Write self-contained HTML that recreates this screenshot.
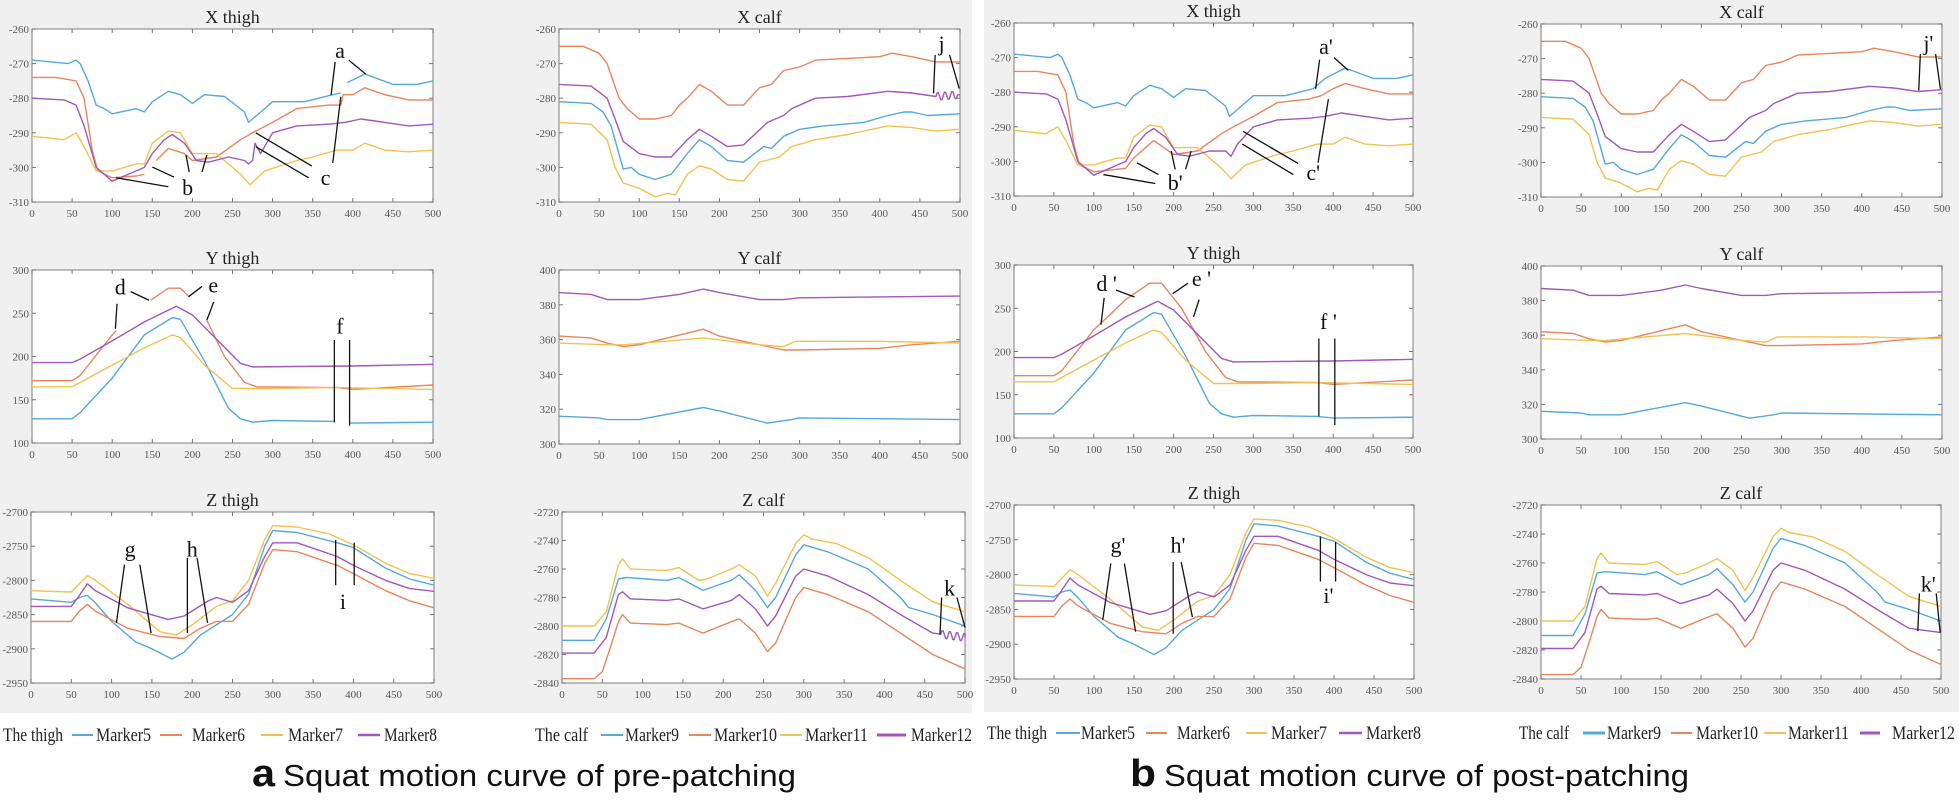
<!DOCTYPE html>
<html><head><meta charset="utf-8"><style>
html,body{margin:0;padding:0;background:#fff;}
svg{display:block}
</style></head><body>
<svg id="s" width="1959" height="800" viewBox="0 0 1959 800" xmlns="http://www.w3.org/2000/svg">
<rect x="0" y="0" width="1959" height="800" fill="#fff"/>
<rect x="0" y="0" width="972" height="713" fill="#f0f0f0"/>
<rect x="984" y="0" width="975" height="712" fill="#f0f0f0"/>
<g id="plots"></g>
<g font-family="Liberation Serif, serif" font-size="19" fill="#222">
<text x="3" y="741" textLength="60" lengthAdjust="spacingAndGlyphs">The thigh</text>
<line x1="72" y1="735" x2="93" y2="735" stroke="#55a8dc" stroke-width="2"/>
<text x="96" y="741" textLength="55" lengthAdjust="spacingAndGlyphs">Marker5</text>
<line x1="160" y1="735" x2="182" y2="735" stroke="#e9855c" stroke-width="2"/>
<text x="192" y="741" textLength="53" lengthAdjust="spacingAndGlyphs">Marker6</text>
<line x1="261" y1="735" x2="283" y2="735" stroke="#f2c250" stroke-width="2"/>
<text x="288" y="741" textLength="55" lengthAdjust="spacingAndGlyphs">Marker7</text>
<line x1="358" y1="735" x2="380" y2="735" stroke="#9f58bb" stroke-width="2.5"/>
<text x="384" y="741" textLength="53" lengthAdjust="spacingAndGlyphs">Marker8</text>
<text x="535" y="741" textLength="53" lengthAdjust="spacingAndGlyphs">The calf</text>
<line x1="601" y1="735" x2="623" y2="735" stroke="#55a8dc" stroke-width="2"/>
<text x="625" y="741" textLength="54" lengthAdjust="spacingAndGlyphs">Marker9</text>
<line x1="689" y1="735" x2="711" y2="735" stroke="#e9855c" stroke-width="2"/>
<text x="714" y="741" textLength="63" lengthAdjust="spacingAndGlyphs">Marker10</text>
<line x1="780" y1="735" x2="802" y2="735" stroke="#f2c250" stroke-width="2"/>
<text x="805" y="741" textLength="63" lengthAdjust="spacingAndGlyphs">Marker11</text>
<line x1="877" y1="735" x2="906" y2="735" stroke="#9f58bb" stroke-width="3"/>
<text x="911" y="741" textLength="61" lengthAdjust="spacingAndGlyphs">Marker12</text>

<text x="987" y="739" textLength="60" lengthAdjust="spacingAndGlyphs">The thigh</text>
<line x1="1056" y1="733" x2="1080" y2="733" stroke="#55a8dc" stroke-width="2"/>
<text x="1081" y="739" textLength="54" lengthAdjust="spacingAndGlyphs">Marker5</text>
<line x1="1146" y1="733" x2="1167" y2="733" stroke="#e9855c" stroke-width="2"/>
<text x="1177" y="739" textLength="53" lengthAdjust="spacingAndGlyphs">Marker6</text>
<line x1="1246" y1="733" x2="1267" y2="733" stroke="#f2c250" stroke-width="2"/>
<text x="1271" y="739" textLength="56" lengthAdjust="spacingAndGlyphs">Marker7</text>
<line x1="1339" y1="733" x2="1362" y2="733" stroke="#9f58bb" stroke-width="2.5"/>
<text x="1366" y="739" textLength="55" lengthAdjust="spacingAndGlyphs">Marker8</text>
<text x="1519" y="739" textLength="50" lengthAdjust="spacingAndGlyphs">The calf</text>
<line x1="1583" y1="733" x2="1605" y2="733" stroke="#55a8dc" stroke-width="3"/>
<text x="1607" y="739" textLength="54" lengthAdjust="spacingAndGlyphs">Marker9</text>
<line x1="1671" y1="733" x2="1692" y2="733" stroke="#e9855c" stroke-width="2"/>
<text x="1696" y="739" textLength="62" lengthAdjust="spacingAndGlyphs">Marker10</text>
<line x1="1764" y1="733" x2="1786" y2="733" stroke="#f2c250" stroke-width="2"/>
<text x="1788" y="739" textLength="61" lengthAdjust="spacingAndGlyphs">Marker11</text>
<line x1="1860" y1="733" x2="1880" y2="733" stroke="#9f58bb" stroke-width="3"/>
<text x="1892" y="739" textLength="63" lengthAdjust="spacingAndGlyphs">Marker12</text>
</g>
<g font-family="Liberation Sans, sans-serif" fill="#111">
<text x="252" y="786" font-size="38" font-weight="bold" textLength="23" lengthAdjust="spacingAndGlyphs">a</text>
<text x="283" y="786" font-size="31" textLength="513" lengthAdjust="spacingAndGlyphs">Squat motion curve of pre-patching</text>
<text x="1130" y="786" font-size="38" font-weight="bold" textLength="26" lengthAdjust="spacingAndGlyphs">b</text>
<text x="1164" y="786" font-size="31" textLength="525" lengthAdjust="spacingAndGlyphs">Squat motion curve of post-patching</text>
</g>
</svg>
<script>
const B='#55a8dc',R='#e9855c',Y='#f2c250',P='#9f58bb';
function wig(pts,from,to,amp,per){
  const out=[];
  for(const p of pts){ if(p&&p[0]>from&&p[0]<to) continue; out.push(p); }
  const ins=[]; let base=null;
  for(let x=from;x<=to;x+=1.5){ base=yAt(pts,x); ins.push([x,base+amp*Math.sin((x-from)/per*2*Math.PI)]); }
  const r=[];let done=false;
  for(const p of out){ if(!done&&p&&p[0]>=to){ r.push(...ins); done=true;} r.push(p);}
  if(!done) r.push(...ins);
  return r;
}
function yAt(pts,x){
  const q=pts.filter(p=>p);
  for(let i=0;i<q.length-1;i++){ if(x>=q[i][0]&&x<=q[i+1][0]){const t=(x-q[i][0])/(q[i+1][0]-q[i][0]||1);return q[i][1]+t*(q[i+1][1]-q[i][1]);}}
  return q[q.length-1][1];
}
function plot(box,ylim,yt,title,series,ann){
  const [x0,y0,x1,y1]=box;
  const sx=v=>x0+v/500*(x1-x0), sy=v=>y0+(ylim[1]-v)/(ylim[1]-ylim[0])*(y1-y0);
  let s=`<rect x="${x0}" y="${y0}" width="${x1-x0}" height="${y1-y0}" fill="#fff" stroke="#9a9a9a" stroke-width="1.3"/>`;
  for(let v=0;v<=500;v+=50){const X=sx(v);
    s+=`<line x1="${X}" y1="${y1}" x2="${X}" y2="${y1-4}" stroke="#777"/><line x1="${X}" y1="${y0}" x2="${X}" y2="${y0+4}" stroke="#777"/>`;
    s+=`<text x="${X}" y="${y1+15}" text-anchor="middle" font-size="11" fill="#555" font-family="Liberation Serif, serif">${v}</text>`;}
  for(const v of yt){const Yv=sy(v);
    s+=`<line x1="${x0}" y1="${Yv}" x2="${x0+4}" y2="${Yv}" stroke="#777"/><line x1="${x1}" y1="${Yv}" x2="${x1-4}" y2="${Yv}" stroke="#777"/>`;
    s+=`<text x="${x0-3}" y="${Yv+4}" text-anchor="end" font-size="11" fill="#555" font-family="Liberation Serif, serif">${v}</text>`;}
  s+=`<text x="${(x0+x1)/2}" y="${y0-6}" text-anchor="middle" font-size="18" fill="#222" font-family="Liberation Serif, serif">${title}</text>`;
  for(const [c,pts] of series){
    let d='',pen=false;
    for(const p of pts){ if(!p){pen=false;continue;} d+=(pen?'L':'M')+sx(p[0]).toFixed(1)+','+sy(p[1]).toFixed(1); pen=true;}
    s+=`<path d="${d}" fill="none" stroke="${c}" stroke-width="1.4" stroke-linejoin="round"/>`;
  }
  if(ann) for(const a of ann){
    s+=`<text x="${sx(a[0])}" y="${sy(a[1])+8}" text-anchor="middle" font-size="22" fill="#111" font-family="Liberation Serif, serif">${a[2]}</text>`;
    for(const l of a[3]) s+=`<line x1="${sx(l[0])}" y1="${sy(l[1])}" x2="${sx(l[2])}" y2="${sy(l[3])}" stroke="#111" stroke-width="1.3"/>`;
  }
  return s;
}
// ---------- data ----------
const xtB_pre=[[0,-269],[45,-270],[55,-269],[60,-270],[70,-275],[80,-282],[90,-283],[100,-284.5],[130,-283],[140,-284],[150,-281],[170,-278],[185,-279],[200,-281.5],[215,-279],[240,-279.5],[265,-284],[270,-287],[280,-285],[300,-281],[340,-281],[375,-279],[385,-278.5],null,[393,-275.5],[415,-273],[450,-276],[480,-276],[500,-275]];
const xtB_post=[[0,-269],[45,-270],[55,-269],[60,-270],[70,-275],[80,-282],[90,-283],[100,-284.5],[130,-283],[140,-284],[150,-281],[170,-278],[185,-279],[200,-281.5],[215,-279],[240,-279.5],[265,-284],[270,-287],[280,-285],[300,-281],[340,-281],[375,-279],[390,-276],[415,-273],[450,-276],[480,-276],[500,-275]];
const xtR_pre=[[0,-274],[30,-274],[55,-275],[65,-280],[75,-295],[82,-301],[100,-303],[130,-302.5],[140,-302],null,[155,-298],[170,-294.5],[190,-296],[200,-298],[230,-297],[260,-292],[275,-290],[300,-287],[330,-283],[370,-282],[385,-282],[388,-279],[400,-279],[415,-277],[440,-279],[470,-280.5],[500,-280.5]];
const xtR_post=[[0,-274],[30,-274],[55,-275],[65,-280],[75,-295],[82,-301],[100,-303],[140,-302],[150,-299],[175,-294],[200,-298],[230,-297],[260,-292],[275,-290],[300,-287],[330,-283],[370,-282],[385,-281],[400,-279],[415,-277.5],[440,-279],[470,-280.5],[500,-280.5]];
const xtY=[[0,-291],[40,-292],[55,-290],[65,-294],[80,-301],[100,-301],[130,-299],[140,-299],[150,-293],[170,-289.5],[185,-290],[200,-296],[230,-296],[260,-302],[272,-305],[290,-301],[330,-298],[350,-297],[380,-295],[400,-295],[415,-293],[440,-295],[470,-295.5],[500,-295]];
const xtP_pre=[[0,-280],[40,-280.5],[55,-282],[65,-288],[80,-300],[100,-304],[140,-300],[150,-296],[165,-292],[175,-290.5],[190,-293],[205,-298],[220,-298.5],[245,-297],[265,-298],[270,-299],[275,-298],[278,-293],[285,-296],[300,-290],[330,-288],[370,-287.5],[390,-287],[410,-286],[440,-287],[470,-288],[500,-287.5]];
const xtP_post=[[0,-280],[40,-280.5],[55,-282],[65,-288],[80,-300],[100,-304],[140,-300],[150,-296],[165,-292],[175,-290.5],[190,-293],[205,-298],[220,-298.5],[245,-297],[265,-297],[272,-298.5],[280,-295],[300,-290],[330,-288],[370,-287.5],[390,-287],[410,-286],[440,-287],[470,-288],[500,-287.5]];

const xcR=[[0,-265],[30,-265],[50,-267],[60,-270],[75,-280],[85,-283],[100,-286],[120,-286],[140,-285],[150,-282],[160,-280],[175,-276],[190,-278],[210,-282],[230,-282],[250,-277],[265,-276],[280,-272],[300,-271],[320,-269],[360,-268.5],[400,-268],[415,-267],[440,-268],[470,-269.5],[500,-269.5]];
const xcP=[[0,-276],[40,-276.5],[60,-280],[70,-286],[80,-292.5],[100,-296],[120,-297],[140,-297],[160,-292],[175,-289],[190,-291],[210,-294],[230,-293.5],[260,-287],[280,-285],[290,-283],[320,-280],[360,-279.5],[410,-278],[440,-278.5],[470,-279.5],[500,-279]];
const xcB=[[0,-281],[40,-281.5],[55,-284],[65,-288],[80,-300.5],[90,-300],[100,-302],[120,-303.5],[140,-302],[160,-296],[175,-292],[190,-294],[210,-298],[230,-298.5],[255,-294],[265,-294.5],[280,-291],[300,-289],[330,-288],[380,-287],[410,-285],[430,-284],[440,-284],[460,-285],[500,-284.5]];
const xcY=[[0,-287],[40,-287.5],[60,-292],[70,-300],[80,-304.5],[100,-306],[120,-308.5],[135,-307.5],[145,-308],[160,-302],[175,-299.5],[190,-300.5],[210,-303.5],[230,-304],[250,-298.5],[275,-297],[290,-294],[320,-292],[360,-290.5],[390,-289],[410,-288],[440,-288.5],[470,-289.5],[500,-289]];

const ytB_pre=[[0,128],[50,128],[60,135],[100,175],[140,225],[175,245],[185,243],[215,195],[245,140],[260,128],[275,124],[300,126],[377,125],null,[396,123],[500,124]];
const ytB_post=[[0,128],[50,128],[60,135],[100,175],[140,225],[175,245],[185,243],[215,195],[245,140],[260,128],[275,124],[300,126],[380,125],[400,123],[500,124]];
const ytR_pre=[[0,172],[50,172],[60,178],[100,225],[105,230],null,[148,265],[170,279],[185,279],[195,270],null,[218,242],[240,200],[265,170],[280,165],[380,164],[400,162],[500,167]];
const ytR_post=[[0,172],[50,172],[60,178],[100,225],[140,260],[170,279],[185,279],[210,250],[240,200],[265,170],[280,165],[380,164],[400,162],[500,167]];
const ytY=[[0,165],[50,165],[60,170],[100,190],[140,210],[175,225],[185,222],[215,190],[250,163],[290,163],[380,164],[500,162]];
const ytP=[[0,193],[50,193],[60,197],[100,218],[140,240],[180,258],[200,248],[230,220],[260,192],[275,188],[400,189],[500,191]];

const ycP=[[0,387],[40,386],[60,383],[100,383],[150,386],[180,389],[200,387],[250,383],[280,383],[300,384],[500,385]];
const ycR=[[0,362],[40,361],[60,358],[80,356],[100,357],[180,366],[200,362],[250,357],[280,354],[300,354],[400,355],[440,357],[500,359]];
const ycY=[[0,358],[60,357],[80,357],[180,361],[250,357],[280,356],[295,359],[400,359],[500,358]];
const ycB=[[0,316],[50,315],[60,314],[100,314],[180,321],[200,319],[260,312],[290,314],[300,315],[500,314]];

const ztY=[[0,-2815],[50,-2817],[60,-2805],[70,-2793],[80,-2800],[120,-2835],[160,-2875],[180,-2880],[200,-2865],[230,-2838],[250,-2830],[270,-2800],[290,-2740],[300,-2720],[330,-2722],[370,-2732],[400,-2748],[440,-2775],[470,-2790],[500,-2797]];
const ztB=[[0,-2827],[50,-2832],[60,-2825],[70,-2822],[80,-2833],[100,-2860],[130,-2890],[150,-2900],[175,-2915],[190,-2905],[210,-2880],[250,-2850],[270,-2820],[290,-2750],[300,-2727],[330,-2730],[380,-2745],[400,-2752],[440,-2782],[470,-2798],[500,-2807]];
const ztP=[[0,-2838],[50,-2838],[60,-2822],[70,-2805],[80,-2815],[120,-2840],[170,-2857],[190,-2852],[220,-2830],[230,-2825],[250,-2832],[270,-2815],[290,-2765],[300,-2745],[330,-2745],[380,-2765],[400,-2778],[440,-2800],[470,-2812],[500,-2816]];
const ztR=[[0,-2860],[50,-2860],[60,-2845],[70,-2835],[80,-2845],[120,-2870],[160,-2882],[190,-2885],[210,-2870],[230,-2860],[250,-2860],[270,-2835],[290,-2775],[300,-2755],[330,-2758],[380,-2778],[400,-2790],[440,-2815],[470,-2830],[500,-2840]];

const zcY=[[0,-2800],[40,-2800],[55,-2790],[70,-2757],[75,-2753],[85,-2760],[130,-2761],[145,-2759],[170,-2768],[180,-2767],[210,-2760],[220,-2757],[240,-2765],[255,-2779],[265,-2770],[290,-2742],[300,-2736],[310,-2739],[340,-2742],[380,-2752],[420,-2768],[460,-2783],[500,-2790]];
const zcB=[[0,-2810],[40,-2810],[55,-2795],[70,-2767],[80,-2766],[130,-2768],[145,-2766],[175,-2775],[210,-2768],[220,-2764],[240,-2775],[255,-2787],[265,-2780],[290,-2750],[300,-2743],[330,-2748],[380,-2760],[420,-2780],[430,-2787],[460,-2792],[500,-2800]];
const zcP=[[0,-2819],[40,-2819],[55,-2808],[70,-2778],[75,-2776],[85,-2781],[130,-2782],[145,-2781],[175,-2788],[210,-2782],[220,-2778],[240,-2788],[255,-2800],[265,-2793],[290,-2765],[300,-2760],[330,-2765],[380,-2778],[420,-2792],[460,-2805],[500,-2808]];
const zcR=[[0,-2837],[40,-2837],[50,-2832],[60,-2815],[70,-2797],[75,-2792],[85,-2798],[130,-2799],[145,-2798],[175,-2805],[210,-2797],[220,-2795],[240,-2805],[255,-2818],[265,-2812],[290,-2780],[300,-2773],[330,-2778],[380,-2790],[420,-2805],[460,-2820],[500,-2830]];

const xT=[-260,-270,-280,-290,-300,-310], yTt=[100,150,200,250,300], yTc=[300,320,340,360,380,400];
const zTt=[-2700,-2750,-2800,-2850,-2900,-2950], zTc=[-2720,-2740,-2760,-2780,-2800,-2820,-2840];
let s='';
// ---- left (pre) ----
s+=plot([32,29,433,202],[-310,-260],xT,'X thigh',[[B,xtB_pre],[R,xtR_pre],[Y,xtY],[P,xtP_pre]],
 [[384,-266,'a',[[378,-269.5,373,-279],[395,-269,416,-273]]],
  [194,-305.6,'b',[[105,-303,170,-305.6],[150,-299.9,177,-302.8],[192,-296.4,196,-301.3],[218,-296.4,212,-301.3]]],
  [366,-302.8,'c',[[279,-290,349,-299.6],[279,-294,345,-303],[385,-279.6,375,-298.7]]]]);
s+=plot([559,29,960,202],[-310,-260],xT,'X calf',[[R,xcR],[P,wig(xcP,470,498,1.2,9)],[B,xcB],[Y,xcY]],
 [[477,-264,'j',[[469,-267.5,467,-278.6],[487,-267.5,499,-277.2]]]]);
s+=plot([32,270,433,443],[100,300],yTt,'Y thigh',[[B,ytB_pre],[R,ytR_pre],[Y,ytY],[P,ytP]],
 [[110,281,'d',[[123,275,146,265],[106,261,104,232]]],
  [226,283,'e',[[212,281,195,269],[226.5,263,218,242]]],
  [384,236,'f',[[377,219,377,124],[396,219,396,120]]]]);
s+=plot([559,270,960,444],[300,400],yTc,'Y calf',[[P,ycP],[R,ycR],[Y,ycY],[B,ycB]],[]);
s+=plot([31,512,434,683],[-2950,-2700],zTt,'Z thigh',[[Y,ztY],[B,ztB],[P,ztP],[R,ztR]],
 [[123,-2753,'g',[[116,-2777,106,-2862],[135,-2777,149,-2877]]],
  [200,-2753,'h',[[194,-2767,194,-2877],[206,-2767,219,-2862]]],
  [387,-2830,'i',[[378,-2741,378,-2807],[401,-2745,401,-2807]]]]);
s+=plot([562,512,965,683],[-2840,-2720],zTc,'Z calf',[[Y,zcY],[B,zcB],[P,wig(zcP,470,500,3,9)],[R,zcR]],
 [[481,-2773,'k',[[471,-2780,469,-2806],[490,-2780,500,-2801]]]]);
// ---- right (post) ----
s+=plot([1014,23,1413,196],[-310,-260],xT,'X thigh',[[B,xtB_post],[R,xtR_post],[Y,xtY],[P,xtP_post]],
 [[391,-266.7,"a'",[[383,-270.6,378,-279],[401,-270,419,-273.7]]],
  [202,-306,"b'",[[112,-303.8,177,-306.4],[154,-300.4,181,-303.8],[197,-297,202,-302.3],[222,-297,215,-302.3]]],
  [375,-303,"c'",[[287,-291.3,356,-300.6],[286,-295,350,-303.8],[394,-282,381,-300.4]]]]);
s+=plot([1541,24,1942,197],[-310,-260],xT,'X calf',[[R,xcR],[P,xcP],[B,xcB],[Y,xcY]],
 [[483,-265.3,"j'",[[473,-268.7,471,-279.2],[492,-268.7,498,-278.8]]]]);
s+=plot([1014,265,1413,438],[100,300],yTt,'Y thigh',[[B,ytB_post],[R,ytR_post],[Y,ytY],[P,ytP]],
 [[116,279,"d '",[[128,271,151,263],[113,262,109,231]]],
  [235,285,"e '",[[218,279,199,267],[232,260,225,240]]],
  [394,235,"f '",[[382,215,382,125],[402,215,402,115]]]]);
s+=plot([1541,266,1942,439],[300,400],yTc,'Y calf',[[P,ycP],[R,ycR],[Y,ycY],[B,ycB]],[]);
s+=plot([1014,505,1414,679],[-2950,-2700],zTt,'Z thigh',[[Y,ztY],[B,ztB],[P,ztP],[R,ztR]],
 [[130,-2757,"g'",[[121,-2784,111,-2865],[138,-2784,152,-2882]]],
  [205,-2757,"h'",[[199,-2782,199,-2885],[209,-2782,223,-2861]]],
  [393,-2829,"i'",[[383,-2745,383,-2810],[402,-2753,402,-2810]]]]);
s+=plot([1541,505,1941,679],[-2840,-2720],zTc,'Z calf',[[Y,zcY],[B,zcB],[P,zcP],[R,zcR]],
 [[484,-2774,"k'",[[473,-2781,471,-2807],[494,-2781,499,-2808]]]]);
document.getElementById('plots').innerHTML=s;
</script>
</body></html>
